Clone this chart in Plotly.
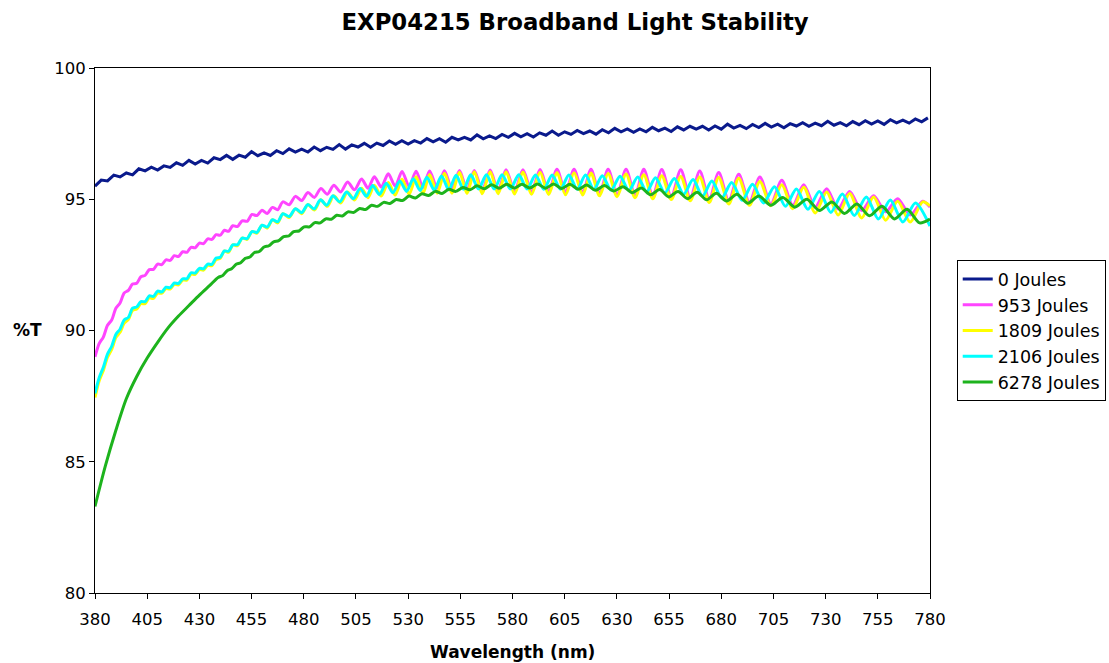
import plotly.graph_objects as go

# ---------------- data ----------------
series_names = ["0 Joules", "953 Joules", "1809 Joules", "2106 Joules", "6278 Joules"]
series_colors = ["#0a1a8c", "#ff45ff", "#ffff00", "#00ffff", "#1db31d"]
series_shapes = ["linear", "spline", "spline", "spline", "spline"]

x_ticks = [380, 405, 430, 455, 480, 505, 530, 555, 580, 605, 630, 655, 680, 705, 730, 755, 780]
y_ticks = [80, 85, 90, 95, 100]

# 0 Joules
wl_blue = list(range(380, 780, 3))
t_blue = [95.5, 95.73, 95.7, 95.92, 95.85, 96.0, 95.93, 96.16, 96.08, 96.22,
          96.11, 96.27, 96.21, 96.39, 96.29, 96.48, 96.34, 96.48, 96.38, 96.58,
          96.51, 96.67, 96.52, 96.68, 96.6, 96.81, 96.66, 96.77, 96.67, 96.85,
          96.74, 96.92, 96.8, 96.91, 96.8, 96.99, 96.85, 96.98, 96.9, 97.08,
          96.91, 97.07, 96.99, 97.13, 96.98, 97.14, 97.05, 97.22, 97.09, 97.23,
          97.1, 97.23, 97.14, 97.31, 97.19, 97.31, 97.17, 97.36, 97.26, 97.36,
          97.26, 97.45, 97.3, 97.41, 97.31, 97.47, 97.36, 97.51, 97.38, 97.5,
          97.37, 97.53, 97.44, 97.6, 97.44, 97.57, 97.47, 97.62, 97.5, 97.6,
          97.48, 97.65, 97.53, 97.7, 97.57, 97.68, 97.55, 97.68, 97.57, 97.74,
          97.61, 97.71, 97.58, 97.76, 97.64, 97.78, 97.67, 97.78, 97.64, 97.79,
          97.67, 97.86, 97.71, 97.81, 97.69, 97.85, 97.73, 97.89, 97.75, 97.86,
          97.72, 97.88, 97.79, 97.92, 97.78, 97.9, 97.8, 97.97, 97.82, 97.92,
          97.8, 97.96, 97.84, 97.99, 97.86, 97.98, 97.85, 98.03, 97.91, 98.01,
          97.9, 98.06, 97.95, 98.1]

# shared short-wavelength sampling for the fringed curves
wl_short = [380, 382, 384, 386, 388, 390, 392, 394, 396, 398,
            400, 402, 404, 406, 408, 410, 412, 414, 416, 418,
            420, 422, 424, 426, 428, 430, 432, 434, 436, 438]

# fringe extrema positions (nm)
wl_cyan_long = [440, 442, 444, 446, 448.25, 450.5, 452.85, 455.2, 457.6, 460,
                462.5, 465, 467.5, 470, 473, 476, 479, 482, 485, 488,
                491, 494, 497.25, 500.5, 503.75, 507, 510, 513, 516.25, 519.5,
                522.75, 526, 529.25, 532.5, 535.75, 539, 542.5, 546, 549.5, 553,
                556.5, 560, 563.75, 567.5, 571.25, 575, 579, 583, 587, 591,
                595, 599, 603, 607, 611, 615, 619, 623, 627.25, 631.5,
                635.75, 640, 644.25, 648.5, 653, 657.5, 662, 666.5, 671, 675.5,
                680.25, 685, 690, 695, 700.25, 705.5, 710.75, 716, 721.5, 727,
                732.5, 738, 743.75, 749.5, 755.25, 761, 767, 773, 780]
wl_ym_long = [440, 442, 444, 446, 448.25, 450.5, 452.85, 455.2, 457.6, 460,
              462.5, 465, 467.5, 470, 473, 476, 479, 482, 485.1, 488.2,
              491.3, 494.4, 497.7, 501, 504.3, 507.7, 510.8, 513.8, 517.1, 520.5,
              523.8, 527.1, 530.5, 533.8, 537.1, 540.3, 543.9, 547.4, 551, 554.6,
              558.2, 561.7, 565.5, 569.3, 573.1, 576.9, 581, 585, 589.1, 593.2,
              597.3, 601.3, 605.4, 609.5, 613.6, 617.6, 621.7, 625.8, 630.1, 634.4,
              638.7, 642.9, 647.2, 651.5, 656.05, 660.6, 665.15, 669.7, 674.25, 678.8,
              683.6, 688.4, 693.5, 698.5, 703.75, 709, 714.25, 719.5, 725, 730.5,
              736, 741.5, 747.25, 753, 758.75, 764.5, 770.5, 776.5, 780]

# 953 Joules
t_magenta_short = [89.0, 89.5, 89.75, 90.2, 90.4, 90.85, 91.05, 91.43, 91.53, 91.77,
                   91.8, 92.05, 92.1, 92.32, 92.33, 92.53, 92.51, 92.69, 92.67, 92.85,
                   92.82, 93.0, 92.98, 93.17, 93.15, 93.33, 93.31, 93.49, 93.47, 93.65]
t_magenta_long = [93.63, 93.82, 93.78, 93.99, 93.96, 94.18, 94.16, 94.42, 94.38, 94.58,
                  94.46, 94.69, 94.6, 94.9, 94.79, 95.11, 94.95, 95.26, 95.07, 95.41,
                  95.19, 95.53, 95.28, 95.66, 95.36, 95.77, 95.42, 95.86, 95.47, 95.97,
                  95.5, 96.06, 95.48, 96.07, 95.45, 96.08, 95.42, 96.09, 95.38, 96.1,
                  95.36, 96.1, 95.34, 96.11, 95.33, 96.12, 95.32, 96.12, 95.3, 96.13,
                  95.28, 96.14, 95.26, 96.14, 95.24, 96.14, 95.21, 96.14, 95.18, 96.14,
                  95.15, 96.14, 95.12, 96.13, 95.09, 96.12, 95.05, 96.08, 95.0, 96.02,
                  94.94, 95.95, 94.88, 95.85, 94.82, 95.72, 94.77, 95.55, 94.7, 95.4,
                  94.63, 95.3, 94.57, 95.13, 94.52, 95.02, 94.4, 94.92, 94.7]

# 1809 Joules
t_yellow_short = [87.45, 88.08, 88.48, 88.98, 89.28, 89.73, 89.93, 90.28, 90.42, 90.77,
                  90.82, 91.02, 91.02, 91.24, 91.22, 91.42, 91.42, 91.6, 91.58, 91.76,
                  91.74, 91.92, 91.92, 92.15, 92.14, 92.32, 92.3, 92.48, 92.47, 92.7]
t_yellow_long = [92.75, 93.03, 92.98, 93.26, 93.23, 93.52, 93.47, 93.77, 93.71, 94.01,
                 93.9, 94.22, 94.1, 94.45, 94.3, 94.64, 94.45, 94.8, 94.59, 94.98,
                 94.73, 95.13, 94.86, 95.28, 94.97, 95.42, 95.06, 95.53, 95.12, 95.64,
                 95.16, 95.76, 95.19, 95.86, 95.21, 95.94, 95.23, 95.99, 95.23, 96.03,
                 95.22, 96.05, 95.21, 96.05, 95.21, 96.05, 95.2, 96.04, 95.19, 96.03,
                 95.18, 96.02, 95.17, 96.01, 95.16, 96.0, 95.13, 95.98, 95.1, 95.96,
                 95.06, 95.93, 95.02, 95.9, 94.99, 95.87, 94.94, 95.85, 94.88, 95.83,
                 94.82, 95.8, 94.77, 95.68, 94.75, 95.55, 94.64, 95.46, 94.48, 95.28,
                 94.4, 95.22, 94.29, 95.09, 94.2, 94.92, 94.13, 94.9, 94.75]

# 2106 Joules
t_cyan_short = [87.6, 88.2, 88.6, 89.1, 89.4, 89.85, 90.05, 90.4, 90.5, 90.85,
                90.9, 91.1, 91.1, 91.32, 91.3, 91.5, 91.47, 91.65, 91.63, 91.81,
                91.79, 91.97, 91.97, 92.2, 92.19, 92.37, 92.35, 92.53, 92.52, 92.76]
t_cyan_long = [92.79, 93.03, 93.02, 93.26, 93.27, 93.52, 93.5, 93.77, 93.74, 94.01,
               93.94, 94.22, 94.14, 94.45, 94.34, 94.64, 94.49, 94.8, 94.63, 94.98,
               94.77, 95.13, 94.9, 95.28, 95.02, 95.41, 95.11, 95.52, 95.18, 95.61,
               95.25, 95.7, 95.3, 95.78, 95.33, 95.84, 95.35, 95.89, 95.36, 95.91,
               95.38, 95.93, 95.39, 95.93, 95.39, 95.93, 95.39, 95.93, 95.39, 95.92,
               95.38, 95.92, 95.38, 95.92, 95.38, 95.92, 95.37, 95.9, 95.35, 95.88,
               95.33, 95.85, 95.28, 95.82, 95.24, 95.79, 95.19, 95.75, 95.12, 95.7,
               95.05, 95.64, 94.96, 95.57, 94.86, 95.48, 94.73, 95.39, 94.62, 95.3,
               94.5, 95.2, 94.38, 95.09, 94.25, 94.97, 94.13, 94.86, 93.98]

# 6278 Joules
wl_green = [380, 385, 390, 395, 400, 405, 410, 415, 420, 425, 430, 435,
            439, 441.15, 443.3, 445.45, 447.6, 449.8, 452, 454.2, 456.4, 458.7,
            461, 463.3, 465.6, 468, 470.4, 472.8, 475.2, 477.7, 480.2, 482.75,
            485.3, 487.9, 490.5, 493.15, 495.8, 498.5, 501.2, 504, 506.8, 509.65,
            512.5, 515.4, 518.3, 521.3, 524.3, 527.35, 530.4, 533.5, 536.6, 539.8,
            543, 546.25, 549.5, 552.85, 556.2, 559.6, 563, 566.5, 570, 573.6,
            577.2, 580.85, 584.5, 588.25, 592, 595.85, 599.7, 603.6, 607.5, 611.5,
            615.5, 619.75, 624, 628.5, 633, 637.35, 641.7, 646.1, 650.5, 654.9,
            659.3, 663.85, 668.4, 673, 677.6, 682.55, 687.5, 692.75, 698, 703.75,
            709.5, 715.25, 721, 727, 733, 739, 745, 751, 757, 763, 769, 775, 780]
t_green = [83.3, 84.85, 86.2, 87.4, 88.25, 88.95, 89.55, 90.1, 90.55, 90.95, 91.35, 91.72,
           92.02, 92.09, 92.28, 92.35, 92.52, 92.58, 92.75, 92.8, 92.97, 93.01,
           93.18, 93.23, 93.38, 93.42, 93.58, 93.6, 93.77, 93.79, 93.95, 93.95,
           94.11, 94.1, 94.25, 94.24, 94.39, 94.36, 94.52, 94.5, 94.65, 94.61,
           94.77, 94.73, 94.88, 94.84, 94.99, 94.95, 95.12, 95.05, 95.21, 95.14,
           95.3, 95.22, 95.38, 95.3, 95.45, 95.36, 95.51, 95.4, 95.55, 95.42,
           95.57, 95.43, 95.57, 95.43, 95.58, 95.42, 95.58, 95.41, 95.57, 95.38,
           95.54, 95.34, 95.52, 95.31, 95.48, 95.25, 95.43, 95.17, 95.37, 95.09,
           95.3, 95.02, 95.27, 94.98, 95.23, 94.93, 95.19, 94.85, 95.12, 94.77,
           95.07, 94.7, 95.0, 94.57, 94.9, 94.46, 94.82, 94.37, 94.73, 94.25,
           94.62, 94.1, 94.25]

xs = [wl_blue, wl_short + wl_ym_long, wl_short + wl_ym_long, wl_short + wl_cyan_long, wl_green]
ys = [t_blue, t_magenta_short + t_magenta_long, t_yellow_short + t_yellow_long,
      t_cyan_short + t_cyan_long, t_green]

FONT = "DejaVu Sans, Verdana, sans-serif"

fig = go.Figure()
for name, color, shape, x, y in zip(series_names, series_colors, series_shapes, xs, ys):
    fig.add_trace(go.Scatter(x=x, y=y, mode="lines", name=name,
                             line=dict(color=color, width=3, shape=shape, smoothing=0.8)))

fig.update_layout(
    width=1109, height=663,
    margin=dict(l=95, r=179, t=68, b=70, autoexpand=False),
    paper_bgcolor="white", plot_bgcolor="white",
    font=dict(family=FONT, size=16.5, color="black"),
    title=dict(text="<b>EXP04215 Broadband Light Stability</b>",
               font=dict(family=FONT, size=22.8, color="black"),
               x=0.575, xanchor="center", xref="paper",
               y=1 - 22 / 663, yanchor="middle", yref="container"),
    showlegend=True,
    legend=dict(x=1.032, xanchor="left", y=0.634, yanchor="top",
                bordercolor="black", borderwidth=1, bgcolor="white",
                font=dict(family=FONT, size=17.5, color="black")),
)

fig.update_xaxes(range=[380, 780], tickmode="array", tickvals=x_ticks,
                 ticktext=[str(v) for v in x_ticks],
                 showline=True, linecolor="black", linewidth=1, mirror=True,
                 ticks="outside", ticklen=5, tickcolor="black",
                 showgrid=False, zeroline=False, ticklabelstandoff=6)
fig.update_yaxes(range=[80, 100], tickmode="array", tickvals=y_ticks,
                 ticktext=[str(v) for v in y_ticks],
                 showline=True, linecolor="black", linewidth=1, mirror=True,
                 ticks="outside", ticklen=5, tickcolor="black",
                 showgrid=False, zeroline=False)

fig.add_annotation(text="<b>Wavelength (nm)</b>", xref="paper", yref="paper",
                   x=0.5, y=-0.112, xanchor="center", yanchor="middle",
                   showarrow=False, font=dict(family=FONT, size=17, color="black"))
fig.add_annotation(text="<b>%T</b>", xref="paper", yref="paper",
                   x=-0.0814, y=0.501, xanchor="center", yanchor="middle",
                   showarrow=False, font=dict(family=FONT, size=17, color="black"))

fig.write_html("out.html", config={"displayModeBar": False},
               post_script="document.body.style.margin='0';")
